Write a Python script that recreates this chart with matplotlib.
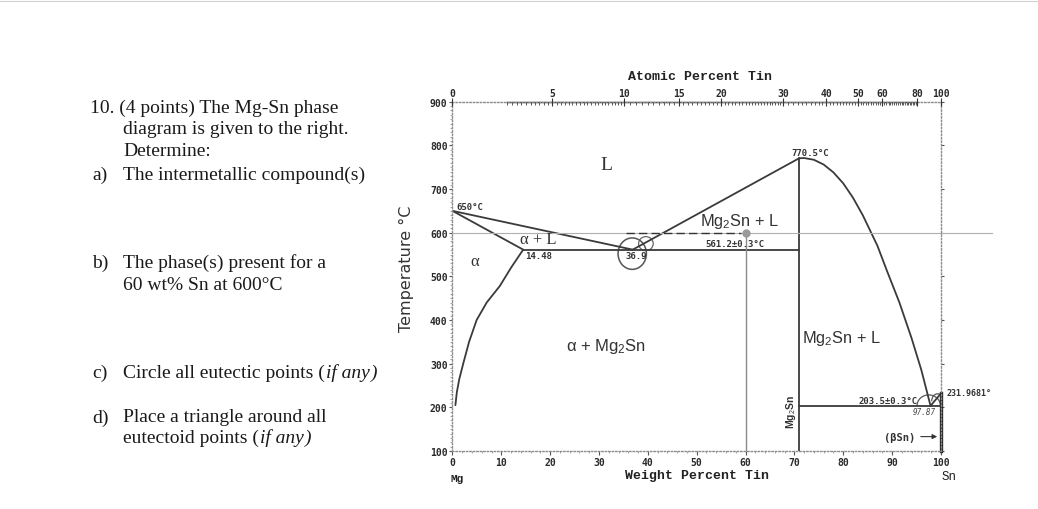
import matplotlib
matplotlib.use("Agg")
import matplotlib.pyplot as plt
from matplotlib.patches import Ellipse, Arc
from matplotlib.lines import Line2D
from matplotlib.ticker import FixedLocator, MultipleLocator
import numpy as np

plt.rcParams['mathtext.fontset'] = 'custom'
plt.rcParams['mathtext.rm'] = 'Liberation Sans'
plt.rcParams['mathtext.it'] = 'Liberation Sans:italic'

# Datos del diagrama Mg-Sn (% en peso de Sn, temperatura en °C)
liq_mg_x = [0, 36.9]
liq_mg_y = [650, 561.2]
sol_mg_x = [0, 14.48]
sol_mg_y = [650, 561.2]
solvus_x = [14.48, 12.0, 9.7, 7.0, 4.95, 3.4, 2.2, 1.4, 0.9, 0.6]
solvus_y = [561.2, 520, 478, 440, 400, 350, 300, 265, 235, 205]
liq_comp_x = [36.9, 70.97]
liq_comp_y = [561.2, 770.5]
liq_sn_x = [70.97, 72.0, 74.0, 76.0, 78.0, 80.0, 82.0, 84.0, 85.5, 87.0, 88.9, 91.5, 94.0, 96.0, 97.87]
liq_sn_y = [770.5, 771.0, 767, 756, 738, 713, 680, 640, 605, 570, 514, 440, 358, 285, 203.5]
eut1_x = [14.48, 70.97]
eut1_y = [561.2, 561.2]
eut2_x = [70.97, 100]
eut2_y = [203.5, 203.5]
comp_x = [70.97, 70.97]
comp_y = [100, 770.5]
sn_liq_x = [97.87, 100]
sn_liq_y = [203.5, 231.97]
sn_sol_x = [100, 100]
sn_sol_y = [100, 231.97]

# Marcas hechas a mano sobre el diagrama
linea600_x = [0, 110.5]
linea600_y = [600, 600]
trazos600_x = [35.5, 59]
vert60_x = [60, 60]
vert60_y = [100, 600]

# Eje superior: porcentaje atomico
at_labels = [0, 5, 10, 15, 20, 30, 40, 50, 60, 80, 100]
at_menores = list(np.arange(2.5, 10, 0.25)) + list(np.arange(10, 30, 0.5)) + list(np.arange(30, 81, 1))


def at_a_peso(at):
    # convierte % atomico de Sn a % en peso
    at = np.asarray(at, dtype=float)
    return 100 * at * 118.71 / (at * 118.71 + (100 - at) * 24.305)


fig = plt.figure(figsize=(10.38, 5.10), dpi=100)
ax = fig.add_axes([0.4359, 0.1137, 0.4706, 0.6849])
ax.set_xlim(0, 100)
ax.set_ylim(100, 900)

col = '#3a3a3a'
lw = 1.3
for xs, ys in [(liq_mg_x, liq_mg_y), (sol_mg_x, sol_mg_y), (solvus_x, solvus_y),
               (liq_comp_x, liq_comp_y), (liq_sn_x, liq_sn_y), (eut1_x, eut1_y),
               (eut2_x, eut2_y), (comp_x, comp_y), (sn_liq_x, sn_liq_y)]:
    ax.plot(xs, ys, color=col, lw=lw, solid_capstyle='round', solid_joinstyle='round')
ax.plot(sn_sol_x, sn_sol_y, color='#222222', lw=2.4, clip_on=False)

ax.plot(linea600_x, linea600_y, color='#b0b0b0', lw=0.8, clip_on=False)
ax.plot(trazos600_x, linea600_y, color='#333333', lw=1.0, ls=(0, (6, 3)))
ax.plot(vert60_x, vert60_y, color='#8a8a8a', lw=1.0)
ax.plot([60], [600], 'o', color='#999999', ms=5)

# circulos a mano
ax.add_patch(Ellipse((36.8, 552), 5.8, 72, fill=False, ec='#555555', lw=1.1))
ax.add_patch(Ellipse((39.6, 575), 3.0, 32, fill=False, ec='#666666', lw=0.9))
ax.add_patch(Arc((97.5, 203.5), 4.8, 50, theta1=0, theta2=180, ec='#555555', lw=0.9))
ax.add_patch(Arc((99.3, 214), 2.4, 34, theta1=0, theta2=180, ec='#555555', lw=0.9))

# bordes punteados
for lado in ['left', 'bottom', 'right', 'top']:
    ax.spines[lado].set_linestyle((0, (1, 1.5)))
    ax.spines[lado].set_color('#8c8c8c')
    ax.spines[lado].set_linewidth(1.0)

tick_font = {'family': 'DejaVu Sans Mono', 'weight': 'bold', 'size': 7}
ax.set_yticks([100, 200, 300, 400, 500, 600, 700, 800, 900])
ax.set_yticklabels(['100', '200', '300', '400', '500', '600', '700', '800', '900'], fontdict=tick_font)
ax.yaxis.set_minor_locator(MultipleLocator(10))
ax.set_xticks([0, 10, 20, 30, 40, 50, 60, 70, 80, 90, 100])
ax.set_xticklabels(['0', '10', '20', '30', '40', '50', '60', '70', '80', '90', '100'], fontdict=tick_font)
ax.xaxis.set_minor_locator(MultipleLocator(2))
ax.tick_params(axis='both', which='major', length=3, width=0.8, color='#555555', pad=1.5, labelcolor='#2a2a2a')
ax.tick_params(axis='both', which='minor', length=1.5, width=0.6, color='#999999')
ax.tick_params(axis='y', right=True, which='major', length=2)

# regla del eje superior
ax_top = ax.twiny()
ax_top.set_xlim(0, 100)
for lado in ax_top.spines:
    ax_top.spines[lado].set_visible(False)
ax_top.xaxis.set_major_locator(FixedLocator(at_a_peso(at_labels)))
ax_top.set_xticklabels([str(v) for v in at_labels], fontdict=tick_font)
ax_top.xaxis.set_minor_locator(FixedLocator(at_a_peso(at_menores)))
ax_top.tick_params(axis='x', which='major', direction='inout', length=6, width=0.8, color='#333333', pad=0, labelcolor='#2a2a2a')
ax_top.tick_params(axis='x', which='minor', direction='in', length=2.5, width=0.6, color='#444444')
ax.plot(at_a_peso([2.5, 80]), [900, 900], color='#333333', lw=1.0, clip_on=False)

# etiquetas de ejes
mono = 'Liberation Mono'
fig.text(700 / 1038, 1 - 77 / 510, 'Atomic Percent Tin', family=mono, weight='bold', size=9.5, ha='center', va='center', color='#222222')
fig.text(697 / 1038, 1 - 476 / 510, 'Weight Percent Tin', family=mono, weight='bold', size=9.5, ha='center', va='center', color='#222222')
fig.text(457 / 1038, 1 - 479 / 510, 'Mg', family=mono, weight='bold', size=8, ha='center', va='center', color='#222222')
fig.text(949 / 1038, 1 - 477 / 510, 'Sn', family=mono, size=9, ha='center', va='center', color='#222222')
fig.text(406 / 1038, 1 - 269 / 510, 'Temperature °C', family='DejaVu Sans', size=11.5, rotation=90, ha='center', va='center', color='#333333')

# etiquetas de fases
sans = 'Liberation Sans'
serif = 'Liberation Serif'
ax.text(31.6, 757, 'L', family=serif, size=14, ha='center', va='center', color='#333333')
ax.text(17.5, 586, 'α + L', family=serif, size=12, ha='center', va='center', color='#333333')
ax.text(4.6, 535, 'α', family=serif, size=12, ha='center', va='center', color='#333333')
ax.text(31.4, 342, 'α + Mg$_2$Sn', family=sans, size=12, ha='center', va='center', color='#333333')
ax.text(58.8, 627, 'Mg$_2$Sn + L', family=sans, size=11.8, ha='center', va='center', color='#333333')
ax.text(79.7, 361, 'Mg$_2$Sn + L', family=sans, size=11.8, ha='center', va='center', color='#333333')

small = {'family': 'DejaVu Sans Mono', 'weight': 'bold', 'size': 6.5, 'color': '#333333'}
ax.text(0.7, 660, '650°C', ha='left', va='center', **small)
ax.text(14.8, 547, '14.48', ha='left', va='center', **small)
ax.text(37.6, 547, '36.9', ha='center', va='center', **small)
ax.text(57.8, 576, '561.2±0.3°C', ha='center', va='center', **small)
ax.text(73.2, 783, '770.5°C', ha='center', va='center', **small)
ax.text(89.1, 216, '203.5±0.3°C', ha='center', va='center', **small)
ax.text(96.7, 191, '97.87', ha='center', va='center', family='DejaVu Sans Mono', style='italic', size=5.5, color='#444444')
ax.text(101.2, 233, '231.9681°', ha='left', va='center', clip_on=False,
        family='DejaVu Sans Mono', weight='bold', size=6, color='#333333')
ax.text(91.6, 133, '(βSn)', ha='center', va='center', family='DejaVu Sans Mono', weight='bold', size=7.5, color='#333333')
ax.annotate('', xy=(99.8, 133), xytext=(95.3, 133),
            arrowprops=dict(arrowstyle='-|>', color='#333333', lw=0.8, mutation_scale=7))
ax.text(69.3, 191, 'Mg$_2$Sn', ha='center', va='center', rotation=90, family=sans, weight='bold', size=7.5, color='#333333')


def texto(x, y, partes, size=14):
    # escribe varios trozos seguidos con distinto estilo
    renderer = fig.canvas.get_renderer()
    for s, estilo in partes:
        t = fig.text(x / 1038, 1 - y / 510, s, family=serif, style=estilo, size=size, ha='left', va='center', color='#1a1a1a')
        bb = t.get_window_extent(renderer)
        x += bb.width + 1


# texto de la pregunta
texto(90, 108, [('10. (4 points) The Mg-Sn phase', 'normal')])
texto(123, 130, [('diagram is given to the right.', 'normal')])
texto(123, 151, [('Determine:', 'normal')])
texto(92, 175, [('a)', 'normal')])
texto(123, 175, [('The intermetallic compound(s)', 'normal')])
texto(92, 263, [('b)', 'normal')])
texto(123, 263, [('The phase(s) present for a', 'normal')])
texto(123, 285, [('60 wt% Sn at 600°C', 'normal')])
texto(92, 373, [('c)', 'normal')])
texto(123, 373, [('Circle all eutectic points (', 'normal'), ('if any', 'italic'), (')', 'italic')])
texto(92, 418, [('d)', 'normal')])
texto(123, 418, [('Place a triangle around all', 'normal')])
texto(123, 438, [('eutectoid points (', 'normal'), ('if any', 'italic'), (')', 'italic')])

fig.add_artist(Line2D([0, 1], [1 - 2 / 510, 1 - 2 / 510], color='#d0d0d0', lw=0.8))

fig.savefig('out.png', dpi=100)
